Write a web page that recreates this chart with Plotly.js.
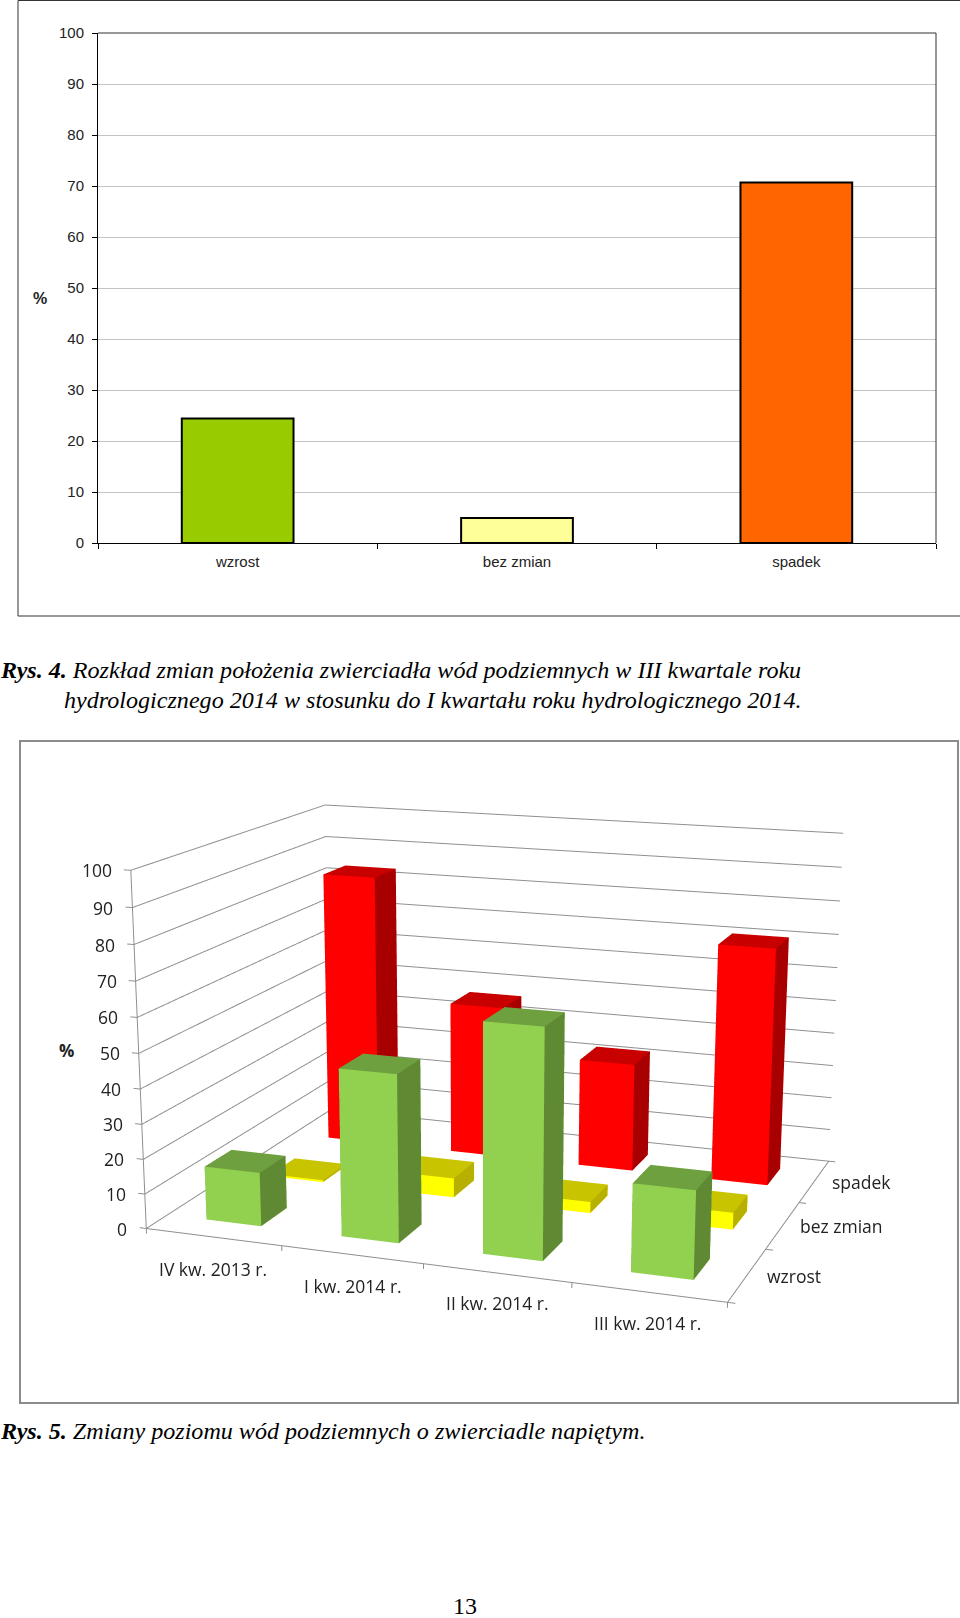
<!DOCTYPE html>
<html><head><meta charset="utf-8">
<script src="https://cdn.plot.ly/plotly-3.0.1.min.js"></script>
<style>
html,body{margin:0;padding:0;background:#fff;overflow:hidden;width:960px;height:1618px}
#top{position:absolute;left:0;top:0;width:960px;height:1618px}
#frame{position:absolute;left:19px;top:740px;width:940px;height:664px;box-sizing:border-box;border:2px solid #8c8c8c;overflow:hidden}
#bars3d{position:absolute;left:-21px;top:-572px;width:966px;height:1840px}
</style></head><body>
<div id="top"></div>
<div id="frame"><div id="bars3d"></div></div>
<script>
// Rys. 4
const cats4 = ['wzrost','bez zmian','spadek'];
const vals4 = [24.4, 4.9, 70.7];
const cols4 = ['#99CC00','#FFFF99','#FF6600'];
// Rys. 5
const quarters = ['IV kw. 2013 r.','I kw. 2014 r.','II kw. 2014 r.','III kw. 2014 r.'];
const seriesNames = ['wzrost','bez zmian','spadek'];
const wzrost   = [15.5, 47.5, 64, 24.4];
const bezZmian = [0.6, 5.7, 3.3, 4.9];
const spadek   = [83.5, 46.5, 32.7, 70.7];
const zTicks = [0,10,20,30,40,50,60,70,80,90,100];

const S = 'Liberation Serif, Times New Roman, serif';
const A = 'Liberation Sans, Arial, sans-serif';
const O = 'Open Sans, Noto Sans, sans-serif';
function cap(x,y,t,size,anchor){return {xref:'paper',yref:'paper',x:x/960,y:1-y/1618,text:t,showarrow:false,xanchor:anchor||'left',yanchor:'middle',font:{family:S,size:size,color:'#000'}};}

Plotly.newPlot('top',[{type:'bar',x:cats4,y:vals4,marker:{color:cols4,line:{color:'#000',width:2}},width:0.4}],{
  width:960,height:1618,margin:{l:0,r:0,t:0,b:0},paper_bgcolor:'#fff',plot_bgcolor:'#fff',showlegend:false,
  xaxis:{domain:[98/960,936/960],anchor:'y',tickson:'boundaries',ticks:'outside',ticklen:5,tickcolor:'#000',linecolor:'#000',linewidth:1,mirror:false,showgrid:false,ticklabelstandoff:5,tickfont:{family:A,size:15,color:'#222'}},
  yaxis:{domain:[1-543/1618,1-33/1618],anchor:'x',range:[0,100],dtick:10,ticks:'outside',ticklen:5,tickcolor:'#000',linecolor:'#000',linewidth:1,gridcolor:'#c4c4c4',gridwidth:1,ticklabelstandoff:5,tickfont:{family:A,size:15,color:'#222'},zeroline:false},
  shapes:[
    {type:'rect',xref:'paper',yref:'paper',x0:18/960,x1:961/960,y0:1-616/1618,y1:1-0.5/1618,line:{color:'#333',width:1}},
    {type:'line',xref:'paper',yref:'paper',x0:98/960,x1:936/960,y0:1-33/1618,y1:1-33/1618,line:{color:'#333',width:1}},
    {type:'line',xref:'paper',yref:'paper',x0:936/960,x1:936/960,y0:1-33/1618,y1:1-543/1618,line:{color:'#333',width:1}}
  ],
  annotations:[
    {xref:'paper',yref:'paper',x:40/960,y:1-299/1618,xanchor:'center',yanchor:'middle',text:'<b>%</b>',showarrow:false,font:{family:A,size:16,color:'#222'}},
    {xref:'paper',yref:'paper',x:66/960,y:1-1050/1618,xanchor:'center',yanchor:'middle',text:'<b>%</b>',showarrow:false,font:{family:O,size:17,color:'#222'}},
    cap(-2,670,'<b><i>Rys. 4.</i></b> <i>Rozkład zmian położenia zwierciadła wód podziemnych w III kwartale roku</i>',24.1),
    cap(62,700,'<i>hydrologicznego 2014 w stosunku do I kwartału roku hydrologicznego 2014.</i>',24.1),
    cap(-2,1431,'<b><i>Rys. 5.</i></b> <i>Zmiany poziomu wód podziemnych o zwierciadle napiętym.</i>',24.1),
    cap(465,1606,'13',24,'center')
  ]
},{staticPlot:true,displayModeBar:false});

// 3D bars
const barW = 0.41, barD = 0.4;
function boxes(values, vIndex, cFront, cSide, cTop){
  const x=[],y=[],z=[],i=[],j=[],k=[],fc=[];
  values.forEach((val,c)=>{
    const b=x.length;
    const x0=c+0.5-barW/2,x1=c+0.5+barW/2,y0=vIndex+0.5-barD/2,y1=vIndex+0.5+barD/2;
    [[x0,y0,0],[x1,y0,0],[x1,y1,0],[x0,y1,0],[x0,y0,val],[x1,y0,val],[x1,y1,val],[x0,y1,val]].forEach(p=>{x.push(p[0]);y.push(p[1]);z.push(p[2]);});
    const quad=(a,d,e,f,col)=>{i.push(b+a,b+a);j.push(b+d,b+e);k.push(b+e,b+f);fc.push(col,col);};
    quad(0,1,5,4,cFront); quad(3,2,6,7,cFront);
    quad(1,2,6,5,cSide);  quad(0,3,7,4,cSide);
    quad(4,5,6,7,cTop);   quad(0,1,2,3,cFront);
  });
  return {type:'mesh3d',x,y,z,i,j,k,facecolor:fc,flatshading:true,hoverinfo:'skip',
    lighting:{ambient:1,diffuse:0,specular:0,roughness:1,fresnel:0},lightposition:{x:0,y:0,z:1000}};
}
function segs(list,color,width){
  const x=[],y=[],z=[];
  list.forEach(s=>{x.push(s[0][0],s[1][0],null);y.push(s[0][1],s[1][1],null);z.push(s[0][2],s[1][2],null);});
  return {type:'scatter3d',mode:'lines',x,y,z,line:{color,width},hoverinfo:'skip',showlegend:false};
}
const nC=quarters.length,nS=seriesNames.length;
const grid=[];
zTicks.forEach(t=>{ grid.push([[0,0,t],[0,nS,t]]); grid.push([[0,nS,t],[nC,nS,t]]); });
const axis=[[[0,0,0],[0,0,100]],[[0,0,0],[nC,0,0]],[[nC,0,0],[nC,nS,0]]];
zTicks.forEach(t=>axis.push([[-0.05,0,t],[0,0,t]]));
for(let c=0;c<=nC;c++) axis.push([[c,0,0],[c,0,-1.5]]);
for(let s=0;s<=nS;s++) axis.push([[nC,s,0],[nC+0.05,s,0]]);

function ann(x,y,z,text,xs,ys,size,anchor){return {x,y,z,text,showarrow:false,xshift:xs,yshift:ys,xanchor:anchor||'center',font:{family:O,size:size||17.5,color:'#222'}};}
const shiftsQ=[[0,-32],[1,-31],[1,-30],[-1,-31]];
const shiftsS=[[47,-1],[59,-1],[47,-1]];
const annots=[];
quarters.forEach((q,c)=>annots.push(ann(c+0.5,0,0,q,shiftsQ[c][0],shiftsQ[c][1])));
seriesNames.forEach((q,s)=>annots.push(ann(nC,s+0.5,0,q,shiftsS[s][0],shiftsS[s][1])));
zTicks.forEach(t=>annots.push(ann(0,0,t,String(t),-17,0,17.5,'right')));

const K=4;
const pad={x:0.1,y:0.1,z:2};
const aspect={x:K*.2683*(nC+2*pad.x)/nC,y:K*.2055*(nS+2*pad.y)/nS,z:K*.1630*(100+2*pad.z)/100};
const eye={x:K*.3329,y:K*-.9399,z:K*.2479};
const center={x:K*-.0065,y:K*-.0102,z:K*-.0288};
Plotly.newPlot('bars3d',[
  segs(grid,'#8f8f8f',2),
  segs(axis,'#8f8f8f',2),
  boxes(wzrost,0,'#92D050','#5F8A33','#6FA03F'),
  boxes(bezZmian,1,'#FFFF00','#B8B000','#C9C400'),
  boxes(spadek,2,'#FF0000','#A80000','#C80000')
],{
  width:966,height:1840,margin:{l:0,r:0,t:0,b:0,pad:0},paper_bgcolor:'rgba(0,0,0,0)',showlegend:false,
  scene:{domain:{x:[0,1],y:[0,1]},bgcolor:'rgba(0,0,0,0)',aspectmode:'manual',aspectratio:aspect,
    camera:{eye,center,up:{x:0,y:0,z:1},projection:{type:'perspective'}},
    xaxis:{visible:false,range:[-pad.x,nC+pad.x]},yaxis:{visible:false,range:[-pad.y,nS+pad.y]},zaxis:{visible:false,range:[-pad.z,100+pad.z]},
    annotations:annots}
},{displayModeBar:false});
</script>
</body></html>
